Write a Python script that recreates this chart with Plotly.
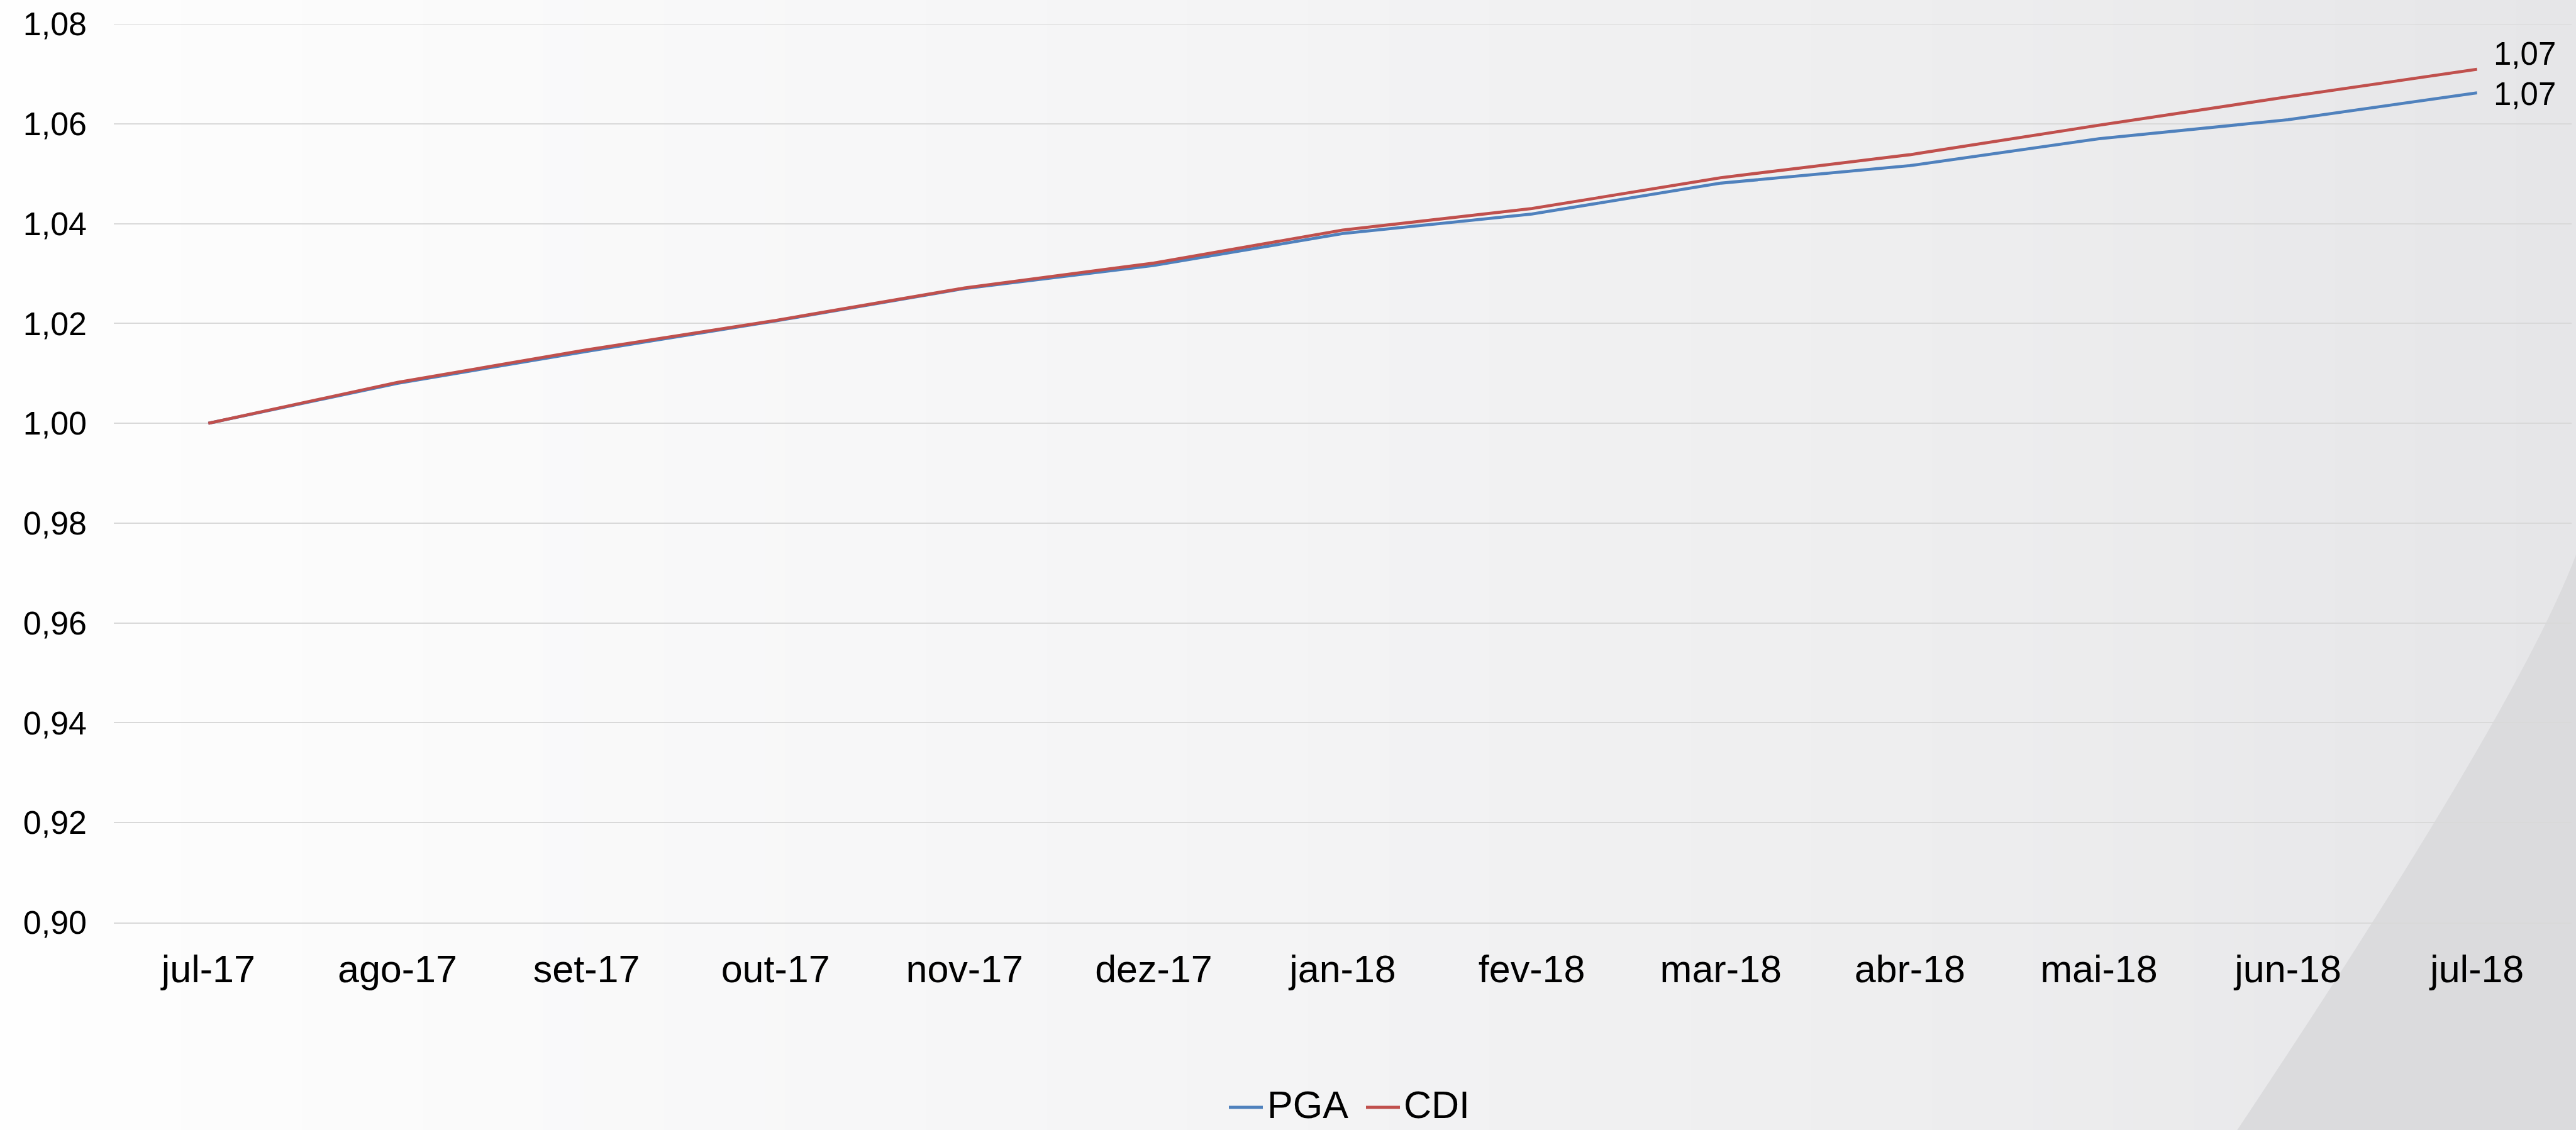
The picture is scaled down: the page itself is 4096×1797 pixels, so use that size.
import plotly.graph_objects as go

# Monthly accumulated index (base 1,00 in jul-17)
months = ["jul-17", "ago-17", "set-17", "out-17", "nov-17", "dez-17", "jan-18",
          "fev-18", "mar-18", "abr-18", "mai-18", "jun-18", "jul-18"]
pga = [1.0000, 1.0080, 1.0144, 1.0205, 1.0270, 1.0316, 1.0380,
       1.0419, 1.0481, 1.0516, 1.0570, 1.0608, 1.0662]
cdi = [1.0000, 1.0082, 1.0147, 1.0206, 1.0271, 1.0321, 1.0387,
       1.0430, 1.0492, 1.0538, 1.0597, 1.0654, 1.0709]
y_ticks = [0.90, 0.92, 0.94, 0.96, 0.98, 1.00, 1.02, 1.04, 1.06, 1.08]
series_names = ["PGA", "CDI"]

W, H = 4096, 1797
S = 0.972  # layout scale
PL, PR, PT, PB = 181, 4089, 38, 1467  # plot area in page pixels

FONT = "Liberation Sans, Arial, sans-serif"
BLUE = "#4F81BD"
RED = "#C0504D"
GRID = "#D9D9D9"


def paper_x(xp):
    return (xp - PL) / (PR - PL)


def paper_y(yp):
    return (PB - yp) / (PB - PT)


def fmt(v):
    return f"{v:.2f}".replace(".", ",")


fig = go.Figure()
fig.add_trace(go.Scatter(x=months, y=pga, name=series_names[0], mode="lines",
                         line=dict(color=BLUE, width=4.8), hoverinfo="skip",
                         showlegend=False))
fig.add_trace(go.Scatter(x=months, y=cdi, name=series_names[1], mode="lines",
                         line=dict(color=RED, width=4.8), hoverinfo="skip",
                         showlegend=False))

shapes = []

# soft horizontal background gradient (light left -> grey right)
stops = [(0, 254, 0), (800, 250, 0), (1400, 247, 1), (2050, 244, 1),
         (2660, 240, 1), (3280, 237, 1), (3880, 232, 2), (4211, 230, 2)]


def bg_level(xref):
    for (x0, l0, b0), (x1, l1, b1) in zip(stops[:-1], stops[1:]):
        if xref <= x1:
            t = (xref - x0) / (x1 - x0)
            return l0 + t * (l1 - l0), b0 + t * (b1 - b0)
    return stops[-1][1], stops[-1][2]


n_strips = 128
sw = W / n_strips
for i in range(n_strips):
    x0 = i * sw
    lvl, bb = bg_level((x0 + sw / 2) / S)
    g = int(round(lvl))
    b = min(255, int(round(lvl + bb)))
    shapes.append(dict(type="rect", xref="paper", yref="paper", layer="below",
                       x0=paper_x(x0), x1=paper_x(x0 + sw + 1.5),
                       y0=paper_y(H + 2), y1=paper_y(-2),
                       fillcolor=f"rgb({g},{g},{b})", line=dict(width=0)))

# curved grey panel in the lower-right corner
sx, sy = 3659 * S, 1850 * S
cx, cy = 4122 * S, 1155 * S
ex, ey = 4215 * S, 905 * S
path = (f"M {paper_x(sx)},{paper_y(sy)} "
        f"Q {paper_x(cx)},{paper_y(cy)} {paper_x(ex)},{paper_y(ey)} "
        f"L {paper_x(4215 * S)},{paper_y(1850 * S)} Z")
shapes.append(dict(type="path", xref="paper", yref="paper", layer="below",
                   path=path, fillcolor="#DBDBDD", line=dict(width=0)))

# top gridline at the upper edge of the value range
shapes.append(dict(type="line", xref="paper", yref="y", layer="below",
                   x0=0, x1=1, y0=y_ticks[-1], y1=y_ticks[-1],
                   line=dict(color=GRID, width=2)))

annotations = []

# end-of-series value labels
annotations.append(dict(x=months[-1], y=cdi[-1], xref="x", yref="y", text=fmt(cdi[-1]),
                        showarrow=False, xanchor="left", yanchor="middle",
                        xshift=24, yshift=25,
                        font=dict(family=FONT, size=51, color="#000000")))
annotations.append(dict(x=months[-1], y=pga[-1], xref="x", yref="y", text=fmt(pga[-1]),
                        showarrow=False, xanchor="left", yanchor="middle",
                        xshift=24, yshift=-2,
                        font=dict(family=FONT, size=51, color="#000000")))

# legend: coloured key line followed by series name
legend_items = [(series_names[0], BLUE, 1954, 2008, 2014),
                (series_names[1], RED, 2172, 2226, 2231)]
LEG_Y = 1757
for name, color, lx0, lx1, tx in legend_items:
    shapes.append(dict(type="line", xref="paper", yref="paper",
                       x0=paper_x(lx0), x1=paper_x(lx1),
                       y0=paper_y(LEG_Y + 4), y1=paper_y(LEG_Y + 4),
                       line=dict(color=color, width=4.8)))
    annotations.append(dict(x=paper_x(tx), y=paper_y(LEG_Y), xref="paper", yref="paper",
                            text=name, showarrow=False, xanchor="left", yanchor="middle",
                            borderpad=0,
                            font=dict(family=FONT, size=61, color="#000000")))

fig.update_layout(
    width=W, height=H, autosize=False,
    margin=dict(l=PL, r=W - PR, t=PT, b=H - PB, pad=0),
    paper_bgcolor="#FFFFFF",
    plot_bgcolor="rgba(0,0,0,0)",
    separators=",.",
    font=dict(family=FONT, color="#000000"),
    shapes=shapes,
    annotations=annotations,
    showlegend=False,
)

fig.update_xaxes(
    type="category", range=[-0.5, len(months) - 0.5],
    showgrid=False, zeroline=False,
    showline=True, linecolor=GRID, linewidth=2,
    ticks="", ticklabelstandoff=20,
    tickfont=dict(family=FONT, size=61, color="#000000"),
)
fig.update_yaxes(
    range=[0.90, 1.08], tickvals=y_ticks, tickformat=".2f",
    showgrid=True, gridcolor=GRID, gridwidth=2,
    zeroline=False, showline=False,
    ticks="", ticklabelstandoff=42,
    tickfont=dict(family=FONT, size=52, color="#000000"),
)

fig.write_html("out.html")
